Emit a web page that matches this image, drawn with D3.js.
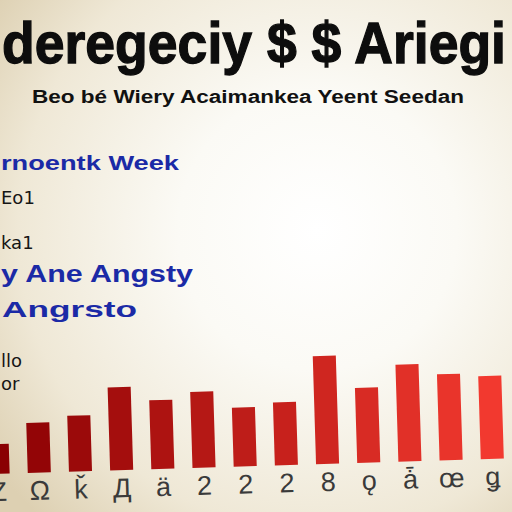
<!DOCTYPE html>
<html>
<head>
<meta charset="utf-8">
<script src="https://cdn.jsdelivr.net/npm/d3@7"></script>
<style>
html,body{margin:0;padding:0;background:#f5f1e6;}
svg{display:block;}
</style>
</head>
<body>
<svg id="chart" width="512" height="512"></svg>
<script>
// ---- data ----
const categories = ["Z","Ω","ǩ","Д","ä","2","2","2","8","ǫ","ǡ","œ","ǥ"];
const values = [11.5, 19.2, 21.5, 31.9, 26.5, 29.2, 22.7, 24.2, 41.5, 28.8, 37.3, 33.1, 31.9];
const gridValues = [100, 82.7, 55, 37.3];
const yTickValues = [100, 82.7, 37.3, 28.5];
const yTickLabels = ["Eo1", "ka1", "llo", "or"];
const titleText = "deregeciy $ $ Ariegi";
const subtitleText = "Beo bé Wiery Acaimankea Yeent Seedan";
const blueNotes = ["rnoentk Week", "y Ane Angsty", "Angrsto"];

const W = 512, H = 512;
const svg = d3.select("#chart");
const defs = svg.append("defs");

// background
const bg = defs.append("radialGradient").attr("id","bg")
  .attr("cx","0.62").attr("cy","0.45").attr("r","0.78");
bg.append("stop").attr("offset","0").attr("stop-color","#ffffff");
bg.append("stop").attr("offset","0.35").attr("stop-color","#fbfaf5");
bg.append("stop").attr("offset","0.75").attr("stop-color","#efe8d6");
bg.append("stop").attr("offset","1").attr("stop-color","#ddd0b2");
svg.append("rect").attr("width",W).attr("height",H).attr("fill","url(#bg)");

// grid stroke gradient
const gg = defs.append("linearGradient").attr("id","gridGrad").attr("x1","0").attr("x2","1");
gg.append("stop").attr("offset","0").attr("stop-color","#cfcabd").attr("stop-opacity",0.9);
gg.append("stop").attr("offset","0.5").attr("stop-color","#d8d6cf").attr("stop-opacity",0.6);
gg.append("stop").attr("offset","1").attr("stop-color","#e2e2e0").attr("stop-opacity",0.5);

// scales
const baseline = 466;
const y = d3.scaleLinear().domain([0, 100]).range([baseline, baseline - 260]);
const x = d3.scaleBand().domain(d3.range(categories.length))
  .range([-22.6, 513]).paddingInner(0.44).paddingOuter(0.22);
const color = d3.scaleLinear().domain([0, categories.length - 1])
  .range(["#8a0002", "#f2392f"]).interpolate(d3.interpolateRgb);

// title
svg.append("text").attr("x", 2).attr("y", 63)
  .attr("font-family","Liberation Sans, Arial, sans-serif").attr("font-weight","bold")
  .attr("font-size", 58).attr("fill","#0d0d0d")
  .attr("stroke","#0d0d0d").attr("stroke-width",1.3)
  .attr("textLength", 504).attr("lengthAdjust","spacingAndGlyphs")
  .text(titleText);
svg.append("text").attr("x", 32).attr("y", 103)
  .attr("font-family","Liberation Sans, Arial, sans-serif").attr("font-weight","bold")
  .attr("font-size", 18).attr("fill","#111")
  .attr("textLength", 432).attr("lengthAdjust","spacingAndGlyphs")
  .text(subtitleText);

// gridlines (slight tilt)
const grid = svg.append("g").attr("transform","rotate(-0.7,0,300)");
grid.selectAll("line").data(gridValues).join("line")
  .attr("x1", -10).attr("x2", (d,i)=> i===0 ? 250 : 520)
  .attr("y1", d=>y(d)).attr("y2", d=>y(d))
  .attr("stroke","url(#gridGrad)").attr("stroke-width",2);

// y tick labels
svg.append("g").selectAll("text").data(yTickValues).join("text")
  .attr("x", 1).attr("y", d => y(d) - 2)
  .attr("font-family","DejaVu Sans, sans-serif").attr("font-size", 18)
  .attr("fill","#151515")
  .text((d,i)=>yTickLabels[i]);

// blue notes
const notePos = [[1,170,178,21],[1,282,192,24],[2,317,135,22]];
svg.append("g").selectAll("text").data(blueNotes).join("text")
  .attr("x",(d,i)=>notePos[i][0]).attr("y",(d,i)=>notePos[i][1])
  .attr("textLength",(d,i)=>notePos[i][2]).attr("lengthAdjust","spacingAndGlyphs")
  .attr("font-size",(d,i)=>notePos[i][3])
  .attr("font-family","Liberation Sans, Arial, sans-serif").attr("font-weight","bold")
  .attr("fill","#1b2aa6")
  .text(d=>d);

// bars (tilted)
const plot = svg.append("g").attr("transform", `rotate(-1.75,256,${baseline})`);
plot.selectAll("rect.bar").data(values).join("rect").attr("class","bar")
  .attr("x",(d,i)=>x(i)).attr("width",x.bandwidth())
  .attr("y",d=>y(d)).attr("height",d=>baseline - y(d))
  .attr("fill",(d,i)=>color(i));

const xAxis = d3.axisBottom(x).tickSize(0).tickPadding(8).tickFormat(i=>categories[i]);
const ax = plot.append("g").attr("transform",`translate(0,${baseline})`).call(xAxis);
ax.select(".domain").remove();
ax.selectAll("text").attr("font-family","Liberation Sans, Arial, sans-serif")
  .attr("font-size",27).attr("fill","#3a3a3a");
</script>
</body>
</html>
